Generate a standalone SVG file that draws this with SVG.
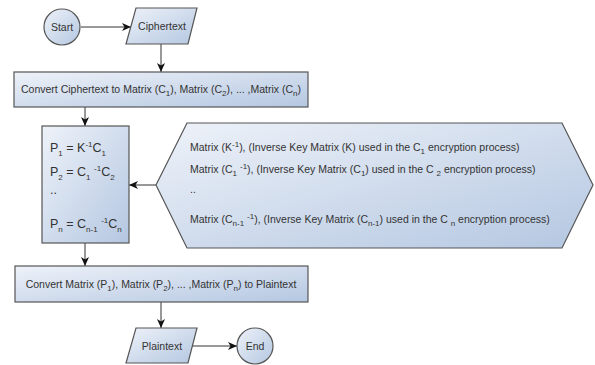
<svg xmlns="http://www.w3.org/2000/svg" width="595" height="365" viewBox="0 0 595 365">
<defs>
<linearGradient id="g" x1="0" y1="0" x2="1" y2="1">
<stop offset="0" stop-color="#eef2f9"/>
<stop offset="1" stop-color="#b4c7e1"/>
</linearGradient>
<marker id="ah" markerWidth="10" markerHeight="8" refX="9" refY="4" orient="auto" markerUnits="userSpaceOnUse">
<path d="M0,0 L9,4 L0,8 L2.5,4 z" fill="#111"/>
</marker>
</defs>
<style>
.s{fill:url(#g);stroke:#555;stroke-width:1.2}
.t{font-family:"Liberation Sans",Arial,sans-serif;font-size:10.5px;fill:#333}
.p{font-family:"Liberation Sans",Arial,sans-serif;font-size:12.5px;fill:#333}
.c{stroke:#333;stroke-width:1;fill:none;marker-end:url(#ah)}
.b{font-size:8px}
</style>
<rect width="595" height="365" fill="#fff"/>
<g id="connectors">
<line class="c" x1="81" y1="27" x2="131" y2="27"/>
<line class="c" x1="161" y1="44" x2="161" y2="72"/>
<line class="c" x1="85" y1="107" x2="85" y2="126"/>
<line class="c" x1="156" y1="185" x2="129" y2="185"/>
<line class="c" x1="85" y1="243" x2="85" y2="266"/>
<line class="c" x1="161" y1="302" x2="161" y2="328"/>
<line class="c" x1="192" y1="346" x2="237" y2="346"/>
</g>
<g id="start">
<circle class="s" cx="62" cy="27" r="18"/>
<text class="t" x="62" y="31" text-anchor="middle">Start</text>
</g>
<g id="ciphertext">
<polygon class="s" points="136,8 197,8 188,44 126,44"/>
<text class="t" x="162" y="30" text-anchor="middle">Ciphertext</text>
</g>
<g id="convert1">
<rect class="s" x="14" y="72" width="294" height="35"/>
<text class="t" x="161" y="93" text-anchor="middle">Convert Ciphertext to Matrix (C<tspan class="b" baseline-shift="-3">1</tspan>), Matrix (C<tspan class="b" baseline-shift="-3">2</tspan>), ... ,Matrix (C<tspan class="b" baseline-shift="-3">n</tspan>)</text>
</g>
<g id="equations">
<rect class="s" x="42" y="126" width="87" height="117"/>
<text class="p" x="50" y="152">P<tspan class="b" baseline-shift="-4">1</tspan> = K<tspan class="b" baseline-shift="5">-1</tspan>C<tspan class="b" baseline-shift="-4">1</tspan></text>
<text class="p" x="50" y="176">P<tspan class="b" baseline-shift="-4">2</tspan> = C<tspan class="b" baseline-shift="-4">1</tspan> <tspan class="b" baseline-shift="5">-1</tspan>C<tspan class="b" baseline-shift="-4">2</tspan></text>
<text class="p" x="50" y="194" font-size="9">..</text>
<text class="p" x="50" y="228">P<tspan class="b" baseline-shift="-4">n</tspan> = C<tspan class="b" baseline-shift="-4">n-1</tspan> <tspan class="b" baseline-shift="5">-1</tspan>C<tspan class="b" baseline-shift="-4">n</tspan></text>
</g>
<g id="keys">
<polygon class="s" points="156,185 187,123 562,123 593,185 562,248 187,248"/>
<text class="t" x="190" y="151">Matrix (K<tspan class="b" baseline-shift="4">-1</tspan>), (Inverse Key Matrix (K) used in the C<tspan class="b" baseline-shift="-3">1</tspan> encryption process)</text>
<text class="t" x="190" y="173">Matrix (C<tspan class="b" baseline-shift="-3">1</tspan> <tspan class="b" baseline-shift="4">-1</tspan>), (Inverse Key Matrix (C<tspan class="b" baseline-shift="-3">1</tspan>) used in the C <tspan class="b" baseline-shift="-3">2</tspan> encryption process)</text>
<text class="t" x="190" y="193" font-size="8">..</text>
<text class="t" x="190" y="223">Matrix (C<tspan class="b" baseline-shift="-3">n-1</tspan> <tspan class="b" baseline-shift="4">-1</tspan>), (Inverse Key Matrix (C<tspan class="b" baseline-shift="-3">n-1</tspan>) used in the C <tspan class="b" baseline-shift="-3">n</tspan> encryption process)</text>
</g>
<g id="convert2">
<rect class="s" x="15" y="266" width="293" height="36"/>
<text class="t" x="161" y="288" text-anchor="middle">Convert Matrix (P<tspan class="b" baseline-shift="-3">1</tspan>), Matrix (P<tspan class="b" baseline-shift="-3">2</tspan>), ... ,Matrix (P<tspan class="b" baseline-shift="-3">n</tspan>) to Plaintext</text>
</g>
<g id="plaintext">
<polygon class="s" points="136,328 197,328 188,363 126,363"/>
<text class="t" x="162" y="350" text-anchor="middle">Plaintext</text>
</g>
<g id="end">
<circle class="s" cx="255" cy="346" r="18"/>
<text class="t" x="255" y="350" text-anchor="middle">End</text>
</g>
</svg>
